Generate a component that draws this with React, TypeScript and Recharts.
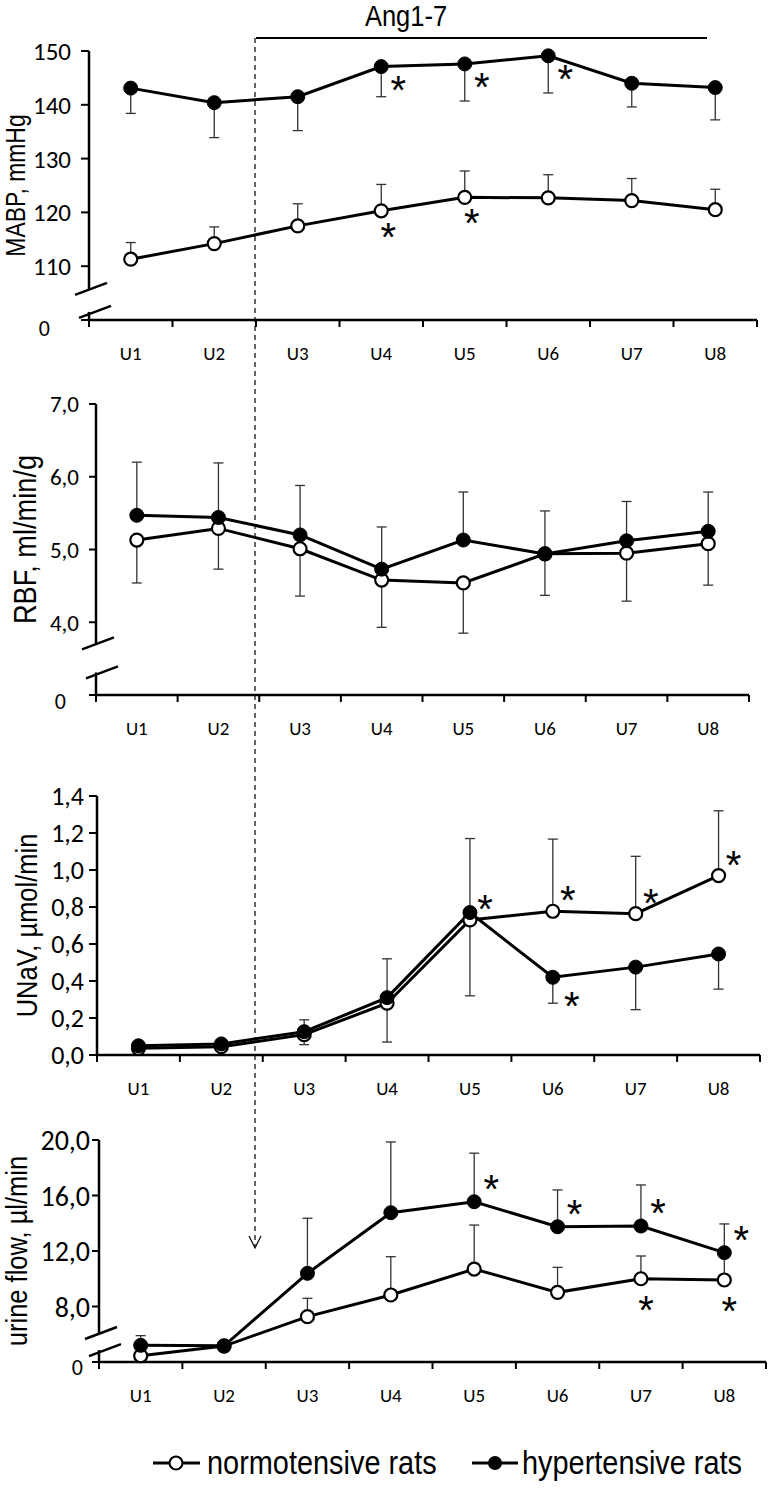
import React from 'react';
import {
	LineChart,
	Line,
	XAxis,
	YAxis,
	ErrorBar,
	ReferenceLine,
	LabelList,
} from 'recharts';

const periods = ['U1', 'U2', 'U3', 'U4', 'U5', 'U6', 'U7', 'U8'];

// MABP, mmHg
const mabpNorm = [111.3, 114.2, 117.5, 120.3, 122.8, 122.7, 122.2, 120.5];
const mabpNormErr = [3.1, 3.1, 4.1, 4.9, 4.9, 4.3, 4.1, 3.8];
const mabpHyp = [143.1, 140.4, 141.5, 147.1, 147.6, 149.1, 144.0, 143.2];
const mabpHypErr = [4.7, 6.5, 6.3, 5.6, 6.9, 6.9, 4.4, 6.0];
const mabpNormSig = [0, 0, 0, 1, 1, 0, 0, 0];
const mabpHypSig = [0, 0, 0, 1, 1, 1, 0, 0];
const mabpTicks = [100, 110, 120, 130, 140, 150];

// RBF, ml/min/g
const rbfNorm = [5.13, 5.29, 5.01, 4.58, 4.54, 4.94, 4.95, 5.08];
const rbfNormErr = [0.59, 0.56, 0.65, 0.65, 0.69, 0.57, 0.66, 0.57];
const rbfHyp = [5.47, 5.44, 5.2, 4.73, 5.13, 4.94, 5.12, 5.25];
const rbfHypErr = [0.73, 0.75, 0.68, 0.58, 0.66, 0.59, 0.54, 0.54];
const rbfNormSig = [0, 0, 0, 0, 0, 0, 0, 0];
const rbfHypSig = [0, 0, 0, 0, 0, 0, 0, 0];
const rbfTicks = [3, 4, 5, 6, 7];

// UNaV, µmol/min
const unavNorm = [0.036, 0.045, 0.11, 0.28, 0.73, 0.777, 0.764, 0.97];
const unavNormErr = [0.01, 0.01, 0.08, 0.24, 0.44, 0.39, 0.31, 0.35];
const unavHyp = [0.05, 0.06, 0.126, 0.31, 0.77, 0.42, 0.475, 0.546];
const unavHypErr = [0.01, 0.01, 0.07, 0.24, 0.45, 0.14, 0.23, 0.19];
const unavNormSig = [0, 0, 0, 0, 1, 1, 1, 1];
const unavHypSig = [0, 0, 0, 0, 0, 1, 0, 0];
const unavTicks = [0, 0.2, 0.4, 0.6, 0.8, 1.0, 1.2, 1.4];

// urine flow, µl/min
const flowNorm = [0.45, 1.15, 7.27, 8.83, 10.7, 9.02, 10.0, 9.91];
const flowNormErr = [0.1, 0.1, 1.32, 2.76, 3.17, 1.8, 1.64, 1.7];
const flowHyp = [1.2, 1.17, 10.39, 14.76, 15.55, 13.75, 13.8, 11.88];
const flowHypErr = [0.7, 0.1, 3.97, 5.1, 3.5, 2.65, 2.96, 2.07];
const flowNormSig = [0, 0, 0, 0, 0, 0, 1, 1];
const flowHypSig = [0, 0, 0, 0, 1, 1, 1, 1];
const flowTicks = [4, 8, 12, 16, 20];

const ARIAL = "'Liberation Sans', Arial, sans-serif";
const CALIBRI = "Carlito, Calibri, Lato, sans-serif";
// Arial Narrow is not installed: squeeze Liberation Sans instead
const NARROW_X = 0.85;

// values under the axis break of the urine flow panel sit just above the "0" line
const flowBreak = (v: number) => (v < 4 ? v + 4 : v);
const same = (v: number) => v;

const panels = [
	{
		title: 'MABP, mmHg', titleSize: 27, titleX: 25, titleDy: 0,
		top: 30, height: 350, left: 89, right: 757, plotTop: 51, plotBottom: 320,
		domain: [100, 150], ticks: mabpTicks, decimals: 0,
		tickFont: 25, tickSize: 8, tickMargin: 10, zero: { dx: -21, dy: 8, size: 22 },
		breakTop: 105.8, breakLow: 101.5,
		norm: mabpNorm, normErr: mabpNormErr, normUp: true, normSig: mabpNormSig, normStar: [7, 17],
		hyp: mabpHyp, hypErr: mabpHypErr, hypUp: false, hypSig: mabpHypSig, hypStar: [17, 14],
		map: same,
	},
	{
		title: 'RBF, ml/min/g', titleSize: 32, titleX: 36, titleDy: -10,
		top: 390, height: 365, left: 96, right: 749, plotTop: 404, plotBottom: 695,
		domain: [3, 7], ticks: rbfTicks, decimals: 1,
		tickFont: 23, tickSize: 7, tickMargin: 10, zero: { dx: -13, dy: 6, size: 22 },
		breakTop: 3.71, breakLow: 3.31,
		norm: rbfNorm, normErr: rbfNormErr, normUp: false, normSig: rbfNormSig, normStar: [0, 0],
		hyp: rbfHyp, hypErr: rbfHypErr, hypUp: true, hypSig: rbfHypSig, hypStar: [0, 0],
		map: same,
	},
	{
		title: 'UNaV, µmol/min', titleSize: 30, titleX: 37, titleDy: 0,
		top: 770, height: 345, left: 97, right: 760, plotTop: 796, plotBottom: 1055,
		domain: [0, 1.4], ticks: unavTicks, decimals: 1,
		tickFont: 26, tickSize: 8, tickMargin: 5, zero: null,
		breakTop: null, breakLow: null,
		norm: unavNorm, normErr: unavNormErr, normUp: true, normSig: unavNormSig, normStar: [15, -20],
		hyp: unavHyp, hypErr: unavHypErr, hypUp: false, hypSig: unavHypSig, hypStar: [19, 20],
		map: same,
	},
	{
		title: 'urine flow, µl/min', titleSize: 30, titleX: 27, titleDy: 0,
		top: 1120, height: 302, left: 99, right: 766, plotTop: 1140, plotBottom: 1362,
		domain: [4, 20], ticks: flowTicks, decimals: 1,
		tickFont: 28, tickSize: 7, tickMargin: 2, zero: { dx: -7, dy: 5, size: 22 },
		breakTop: 6.09, breakLow: 4.86,
		norm: flowNorm, normErr: flowNormErr, normUp: true, normSig: flowNormSig, normStar: [5, 22],
		hyp: flowHyp, hypErr: flowHypErr, hypUp: true, hypSig: flowHypSig, hypStar: [17, -22],
		map: flowBreak,
	},
];

type PanelCfg = (typeof panels)[number];

const buildRows = (p: PanelCfg) =>
	periods.map((name, i) => ({
		name,
		pos: i + 1,
		norm: p.map(p.norm[i]),
		hyp: p.map(p.hyp[i]),
		normErr: p.normUp ? [0, p.normErr[i]] : [p.normErr[i], 0],
		hypErr: p.hypUp ? [0, p.hypErr[i]] : [p.hypErr[i], 0],
		normSig: p.normSig[i],
		hypSig: p.hypSig[i],
	}));

const PeriodTick = (props: any) => {
	const { x, y, payload, half } = props;
	const i = Math.round(payload.value - 0.5);
	if (i < 0 || i >= periods.length) return null;
	return (
		<text x={x + half} y={y + 31} textAnchor='middle' fontFamily={CALIBRI} fontSize={19} fill='#000'>
			{periods[i]}
		</text>
	);
};

const ValueTick = (props: any) => {
	const { x, y, payload, cfg } = props;
	const p = cfg as PanelCfg;
	if (p.zero && payload.value === p.domain[0]) {
		return (
			<text x={x + p.zero.dx} y={y + p.zero.dy} dy='0.36em' textAnchor='end' fontFamily={CALIBRI} fontSize={p.zero.size} fill='#000'>
				0
			</text>
		);
	}
	return (
		<text x={x} y={y} dy='0.36em' textAnchor='end' fontFamily={CALIBRI} fontSize={p.tickFont} fill='#000'>
			{p.decimals ? payload.value.toFixed(p.decimals).replace('.', ',') : payload.value}
		</text>
	);
};

const AxisTitle = (props: any) => {
	const { viewBox, cfg } = props;
	const p = cfg as PanelCfg;
	const cy = viewBox.y + viewBox.height / 2 + p.titleDy;
	return (
		<text
			transform={`translate(${p.titleX}, ${cy}) rotate(-90) scale(${NARROW_X}, 1)`}
			textAnchor='middle'
			fontFamily={ARIAL}
			fontSize={p.titleSize}
			fill='#000'
		>
			{p.title}
		</text>
	);
};

const Slash = (dx: number) => (props: any) => {
	const { x1, y1 } = props;
	return <line x1={x1 + dx - 16} y1={y1 + 6} x2={x1 + dx + 16} y2={y1 - 6} stroke='#000' strokeWidth={2.5} />;
};

const Star = (off: number[]) => (props: any) => {
	const vx = props.viewBox?.x ?? props.x;
	const vy = props.viewBox?.y ?? props.y;
	if (!props.value) return null;
	return (
		<text x={vx + off[0]} y={vy + off[1] + 23} textAnchor='middle' fontFamily={ARIAL} fontSize={40} fill='#000'>
			*
		</text>
	);
};

const Panel = ({ p }: { p: PanelCfg }) => {
	const rows = buildRows(p);
	const half = (p.right - p.left) / 16;
	const [lo, hi] = p.domain;
	return (
		<div style={{ position: 'absolute', left: 0, top: p.top }}>
			<LineChart
				width={768}
				height={p.height}
				data={rows}
				margin={{ top: p.plotTop - p.top, right: 768 - p.right, left: 0, bottom: 0 }}
			>
				<XAxis
					type='number'
					dataKey='pos'
					domain={[0.5, 8.5]}
					ticks={[0.5, 1.5, 2.5, 3.5, 4.5, 5.5, 6.5, 7.5, 8.5]}
					height={p.top + p.height - p.plotBottom}
					axisLine={{ stroke: '#000', strokeWidth: 2.5 }}
					tickLine={{ stroke: '#000', strokeWidth: 2 }}
					tickSize={7}
					tick={<PeriodTick half={half} />}
					interval={0}
				/>
				<YAxis
					type='number'
					domain={p.domain}
					ticks={p.ticks}
					width={p.left}
					axisLine={p.breakTop === null ? { stroke: '#000', strokeWidth: 2.5 } : false}
					tickLine={{ stroke: '#000', strokeWidth: 2 }}
					tickSize={p.tickSize}
					tickMargin={p.tickMargin}
					tick={<ValueTick cfg={p} />}
					interval={0}
					label={<AxisTitle cfg={p} />}
				/>
				{p.breakTop !== null && (
					<ReferenceLine segment={[{ x: 0.5, y: hi }, { x: 0.5, y: p.breakTop }]} stroke='#000' strokeWidth={2.5} />
				)}
				{p.breakTop !== null && (
					<ReferenceLine segment={[{ x: 0.5, y: lo }, { x: 0.5, y: p.breakLow }]} stroke='#000' strokeWidth={2.5} />
				)}
				{p.breakTop !== null && (
					<ReferenceLine y={p.breakTop} ifOverflow='visible' shape={Slash(2)} />
				)}
				{p.breakTop !== null && (
					<ReferenceLine y={p.breakLow} ifOverflow='visible' shape={Slash(6)} />
				)}
				<Line
					dataKey='norm'
					stroke='#000'
					strokeWidth={3}
					dot={{ r: 6.5, fill: '#fff', stroke: '#000', strokeWidth: 2.2 }}
					activeDot={false}
					isAnimationActive={false}
				>
					<ErrorBar dataKey='normErr' direction='y' width={5} stroke='#333' strokeWidth={1.3} />
					<LabelList dataKey='normSig' content={Star(p.normStar)} />
				</Line>
				<Line
					dataKey='hyp'
					stroke='#000'
					strokeWidth={3}
					dot={{ r: 7, fill: '#000', stroke: '#000', strokeWidth: 1 }}
					activeDot={false}
					isAnimationActive={false}
				>
					<ErrorBar dataKey='hypErr' direction='y' width={5} stroke='#333' strokeWidth={1.3} />
					<LabelList dataKey='hypSig' content={Star(p.hypStar)} />
				</Line>
			</LineChart>
		</div>
	);
};

export default function App() {
	// the infusion start sits on the U2/U3 boundary of the top panel
	const startX = panels[0].left + (2 * (panels[0].right - panels[0].left)) / 8;
	return (
		<div style={{ position: 'absolute', left: 0, top: 0, width: 768, height: 1491, background: '#fff' }}>
			{panels.map((p) => (
				<Panel key={p.title} p={p} />
			))}
			<svg width={768} height={1491} style={{ position: 'absolute', left: 0, top: 0, pointerEvents: 'none' }}>
				<text transform={`translate(406, 26) scale(${NARROW_X}, 1)`} textAnchor='middle' fontFamily={ARIAL} fontSize={30} fill='#000'>
					Ang1-7
				</text>
				<line x1={startX} y1={38} x2={707} y2={38} stroke='#000' strokeWidth={2} />
				<line x1={startX - 1} y1={38} x2={startX - 1} y2={1246} stroke='#000' strokeWidth={1.2} strokeDasharray='5 4' />
				<polyline points={`${startX - 7},1236 ${startX - 1},1248 ${startX + 5},1236`} fill='none' stroke='#000' strokeWidth={1.2} />
				<g>
					<line x1={153} y1={1463} x2={200} y2={1463} stroke='#000' strokeWidth={3} />
					<circle cx={176} cy={1463} r={6.5} fill='#fff' stroke='#000' strokeWidth={2.2} />
					<text transform={`translate(207, 1474) scale(${NARROW_X}, 1)`} fontFamily={ARIAL} fontSize={34} fill='#000'>
						normotensive rats
					</text>
					<line x1={472} y1={1463} x2={518} y2={1463} stroke='#000' strokeWidth={3} />
					<circle cx={495} cy={1463} r={7} fill='#000' />
					<text transform={`translate(522, 1474) scale(${NARROW_X}, 1)`} fontFamily={ARIAL} fontSize={34} fill='#000'>
						hypertensive rats
					</text>
				</g>
			</svg>
		</div>
	);
}
